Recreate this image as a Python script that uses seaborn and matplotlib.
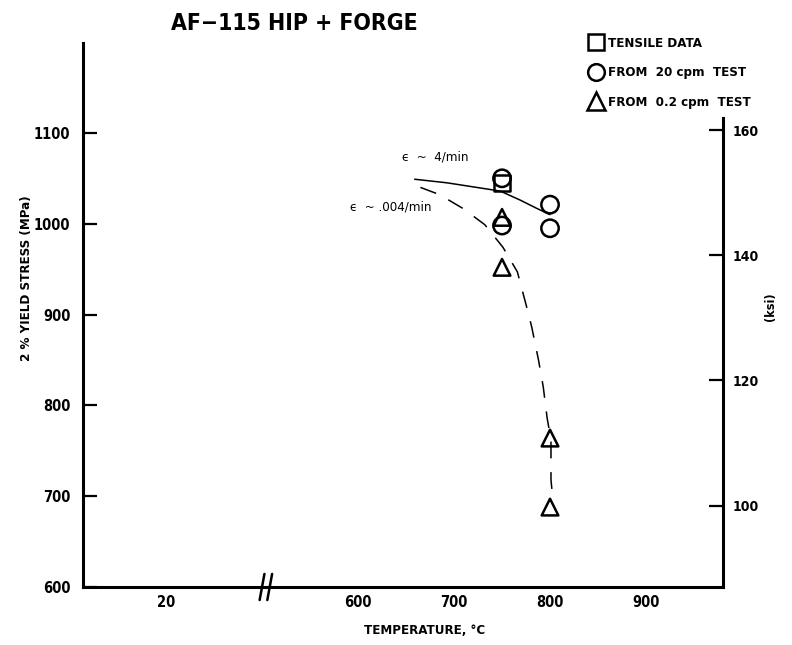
import matplotlib
matplotlib.use("Agg")
import matplotlib.pyplot as plt
import matplotlib.transforms as mtransforms
from matplotlib.lines import Line2D
import seaborn as sns
import pandas as pd

# ---- data -------------------------------------------------------------
# 0.2 % yield stress (MPa) versus test temperature (deg C)
tensile_temp = [750]
tensile_stress = [1045]

cpm20_temp = [750, 750, 800, 800]
cpm20_stress = [1050, 998, 1021, 995]

cpm02_temp = [750, 750, 800, 800]
cpm02_stress = [1007, 952, 764, 688]

# trend curves for the two strain rates
fast_temp = [659, 693, 748, 769, 786, 800]
fast_stress = [1049, 1045, 1036, 1026, 1017, 1010]

slow_temp = [665, 685, 709, 732, 751, 766, 777, 781, 788, 793, 797, 801, 801, 803]
slow_stress = [1040, 1032, 1017, 999, 974, 947, 903, 886, 850, 820, 786, 762, 718, 696]

# axis ticks (the "20" label sits left of the axis break)
x_tick_pos = [400, 600, 700, 800, 900]
x_tick_labels = ["20", "600", "700", "800", "900"]
mpa_ticks = [600, 700, 800, 900, 1000, 1100]
ksi_ticks = [100, 120, 140, 160]
MPA_PER_KSI = 6.895

# ---- figure ------------------------------------------------------------
sns.set_style("white")
plt.rcParams["font.family"] = ["DejaVu Sans"]
plt.rcParams["font.stretch"] = "condensed"
plt.rcParams["font.weight"] = "bold"
plt.rcParams["text.color"] = "black"
plt.rcParams["axes.labelcolor"] = "black"

W, H = 792, 645
fig = plt.figure(figsize=(W / 100, H / 100), dpi=100)
ax_l, ax_r, ax_b, ax_t = 83, 723, 587, 43
ax = fig.add_axes([ax_l / W, (H - ax_b) / H, (ax_r - ax_l) / W, (ax_b - ax_t) / H])

ylim = (600, 1199)
xlim = (313.5, 980.2)

fast = pd.DataFrame({"T": fast_temp, "S": fast_stress})
sns.lineplot(data=fast, x="T", y="S", ax=ax, color="black", lw=1.1,
             sort=False, estimator=None)
slow = pd.DataFrame({"T": slow_temp, "S": slow_stress})
sns.lineplot(data=slow, x="T", y="S", ax=ax, color="black", lw=1.1,
             sort=False, estimator=None, linestyle=(0, (11, 9)))

mk = dict(facecolor="none", edgecolor="black", linewidth=1.8, zorder=5)
sns.scatterplot(x=tensile_temp, y=tensile_stress, ax=ax, marker="s", s=12**2, **mk)
sns.scatterplot(x=cpm20_temp, y=cpm20_stress, ax=ax, marker="o", s=12.5**2, **mk)
sns.scatterplot(x=cpm02_temp, y=cpm02_stress, ax=ax, marker="^", s=12**2, **mk)

ax.set_xlim(*xlim)
ax.set_ylim(*ylim)
ax.set_xticks(x_tick_pos)
ax.set_xticklabels(x_tick_labels)
ax.set_yticks(mpa_ticks)
ax.set_xlabel("TEMPERATURE, °C", fontsize=9.5, fontweight="bold")
ax.set_ylabel("2 % YIELD STRESS (MPa)", fontsize=9.5, fontweight="bold")
ax.xaxis.set_label_coords((425 - ax_l) / (ax_r - ax_l), -(624 - ax_b) / (ax_b - ax_t))
ax.yaxis.set_label_coords((33 - ax_l) / (ax_r - ax_l), (ax_b - 278) / (ax_b - ax_t))

for side in ("top", "right"):
    ax.spines[side].set_visible(False)
for side in ("left", "bottom"):
    ax.spines[side].set_linewidth(2.2)
    ax.spines[side].set_color("black")

ax.tick_params(axis="both", direction="in", length=10, width=1.6,
               labelsize=10.5, colors="black")
ax.tick_params(axis="x", pad=6)
ax.tick_params(axis="y", pad=9)
# no tick mark at the "20" position
ax.xaxis.get_major_ticks()[0].tick1line.set_visible(False)
for lab in ax.get_xticklabels() + ax.get_yticklabels():
    lab.set_fontweight("bold")

# secondary ksi scale on the right
ax2 = ax.twinx()
ax2.set_ylim(ylim[0] / MPA_PER_KSI, ylim[1] / MPA_PER_KSI)
ax2.set_yticks(ksi_ticks)
for side in ("top", "left", "bottom"):
    ax2.spines[side].set_visible(False)
ax2.spines["right"].set_linewidth(2.2)
ax2.spines["right"].set_color("black")
ax2.spines["right"].set_bounds(ylim[0] / MPA_PER_KSI, 1116 / MPA_PER_KSI)
ax2.tick_params(axis="y", direction="in", length=10, width=1.6,
                labelsize=10, colors="black", pad=7)
for lab in ax2.get_yticklabels():
    lab.set_fontweight("bold")
ax2.set_ylabel("(ksi)", fontsize=9, fontweight="bold")
ax2.yaxis.set_label_coords((764 - ax_l) / (ax_r - ax_l), (ax_b - 307) / (ax_b - ax_t))

# axis break marks
brk = mtransforms.blended_transform_factory(ax.transData, ax.transAxes)
for dx in (-4, 4):
    ax.plot([504 + dx - 2.5, 504 + dx + 2.5], [-0.024, 0.024], color="black",
            lw=1.8, transform=brk, clip_on=False)

# strain-rate annotations
ax.text(646, 1074, "ϵ  ~  4/min", fontsize=9.5, fontweight="normal",
        ha="left", va="center")
ax.text(592, 1018, "ϵ  ~ .004/min", fontsize=9.5, fontweight="normal",
        ha="left", va="center")

# title
fig.text(171 / W, 1 - 23 / H, "AF\u2212115 HIP + FORGE", fontsize=16.5,
         fontweight="bold", ha="left", va="center")

# legend
handles = [
    Line2D([], [], marker="s", ls="none", mfc="none", mec="black", mew=1.8, ms=11),
    Line2D([], [], marker="o", ls="none", mfc="none", mec="black", mew=1.8, ms=12),
    Line2D([], [], marker="^", ls="none", mfc="none", mec="black", mew=1.8, ms=13),
]
labels = ["TENSILE DATA", "FROM  20 cpm  TEST", "FROM  0.2 cpm  TEST"]
fig.legend(handles, labels, loc="upper left",
           bbox_to_anchor=(576 / W, 1 - 25 / H), frameon=False,
           handletextpad=0.3, labelspacing=1.25, handlelength=1.2,
           prop={"weight": "bold", "size": 9.5, "stretch": "condensed"})

fig.savefig("out.png", dpi=100, facecolor="white")
